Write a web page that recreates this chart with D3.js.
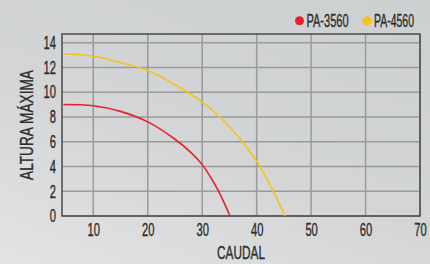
<!DOCTYPE html>
<html lang="es">
<head>
  <meta charset="UTF-8">
  <title>Curvas PA-3560 / PA-4560</title>
  <script src="https://cdn.jsdelivr.net/npm/d3@7"></script>
  <style>
    html, body { margin: 0; padding: 0; }
    body { width: 430px; height: 264px; overflow: hidden;
           background: linear-gradient(200deg, #cdd0d1 0%, #d3d5d6 55%, #e2e3e4 100%); }
    text { font-family: "Liberation Sans", Arial, sans-serif; fill: #2b2b2b;
           stroke: #2b2b2b; stroke-width: 0.35px; }
  </style>
</head>
<body>
<div id="chart"></div>
<script>
// caudal (x) y altura máxima (y)
const pa3560X = [4.5, 10, 15, 20, 25, 28, 30, 32, 33, 34, 35.1];
const pa3560Y = [9.0, 8.9, 8.45, 7.6, 6.2, 5.1, 4.15, 2.8, 2.0, 1.1, 0];
const pa4560X = [4.5, 10, 15, 20, 25, 30, 33, 35.4, 37.2, 40.2, 43, 45.2];
const pa4560Y = [13.1, 12.9, 12.4, 11.75, 10.6, 9.2, 8.1, 7.0, 6.1, 4.3, 2.05, 0];
const xTicks = [10, 20, 30, 40, 50, 60, 70];
const yTicks = [0, 2, 4, 6, 8, 10, 12, 14];
const seriesNames = ["PA-3560", "PA-4560"];
const seriesColors = ["#ea1f2d", "#f6c419"];

const width = 430, height = 264;
const margin = { top: 34, right: 10, bottom: 48, left: 62 };
const squeeze = 0.62; // the original uses a condensed face

const svg = d3.select("#chart").append("svg")
  .attr("width", width)
  .attr("height", height);

const x = d3.scaleLinear().domain([4.25, 70]).range([margin.left, width - margin.right]);
const y = d3.scaleLinear().domain([0, 14.7]).range([height - margin.bottom, margin.top]);

// grid
svg.append("g")
  .selectAll("line")
  .data(xTicks)
  .join("line")
  .attr("x1", d => x(d)).attr("x2", d => x(d))
  .attr("y1", y(14.7)).attr("y2", y(0))
  .attr("stroke", "#9a9a9a")
  .attr("stroke-width", 1.5);

svg.append("g")
  .selectAll("line")
  .data(yTicks)
  .join("line")
  .attr("x1", x(4.25)).attr("x2", x(70))
  .attr("y1", d => y(d)).attr("y2", d => y(d))
  .attr("stroke", "#9a9a9a")
  .attr("stroke-width", 1.5);

// border
svg.append("rect")
  .attr("x", x(4.25)).attr("y", y(14.7))
  .attr("width", x(70) - x(4.25))
  .attr("height", y(0) - y(14.7))
  .attr("fill", "none")
  .attr("stroke", "#4a4a4a")
  .attr("stroke-width", 1.5);

// axes (labels only)
const xAxis = svg.append("g")
  .attr("transform", `translate(0,${y(0)})`)
  .call(d3.axisBottom(x).tickValues(xTicks).tickSize(0).tickPadding(7));
xAxis.select(".domain").remove();
xAxis.selectAll("text")
  .attr("font-size", 18)
  .attr("fill", "#2b2b2b")
  .attr("transform", `scale(${squeeze},1)`);

const yAxis = svg.append("g")
  .attr("transform", `translate(${x(4.25)},0)`)
  .call(d3.axisLeft(y).tickValues(yTicks).tickSize(0));
yAxis.select(".domain").remove();
yAxis.selectAll("text")
  .attr("font-size", 18)
  .attr("fill", "#2b2b2b")
  .attr("x", 0)
  .attr("transform", `translate(-6,0) scale(${squeeze},1)`);

// curves
const series = [
  { xs: pa3560X, ys: pa3560Y },
  { xs: pa4560X, ys: pa4560Y }
];
const line = d3.line()
  .x(d => x(d[0]))
  .y(d => y(d[1]))
  .curve(d3.curveCatmullRom.alpha(0.5));

series.forEach((s, i) => {
  svg.append("path")
    .datum(s.xs.map((v, j) => [v, s.ys[j]]))
    .attr("d", line)
    .attr("fill", "none")
    .attr("stroke", seriesColors[i])
    .attr("stroke-width", 1.6);
});

// axis titles
svg.append("text")
  .attr("x", (x(4.25) + x(70)) / 2)
  .attr("y", 258.5)
  .attr("text-anchor", "middle")
  .attr("font-size", 19)
  .attr("textLength", 48)
  .attr("lengthAdjust", "spacingAndGlyphs")
  .text("CAUDAL");

svg.append("text")
  .attr("transform", `translate(33,${(y(0) + y(14.7)) / 2}) rotate(-90)`)
  .attr("text-anchor", "middle")
  .attr("font-size", 19)
  .attr("textLength", 110)
  .attr("lengthAdjust", "spacingAndGlyphs")
  .text("ALTURA MÁXIMA");

// legend
const legendX = [299.5, 367];
const legendW = [42, 40];
const legend = svg.append("g");
legend.selectAll("circle")
  .data(seriesNames)
  .join("circle")
  .attr("cx", (d, i) => legendX[i])
  .attr("cy", 20.7)
  .attr("r", 4.5)
  .attr("fill", (d, i) => seriesColors[i]);
legend.selectAll("text")
  .data(seriesNames)
  .join("text")
  .attr("x", (d, i) => legendX[i] + 7)
  .attr("y", 26.5)
  .attr("font-size", 18)
  .attr("textLength", (d, i) => legendW[i])
  .attr("lengthAdjust", "spacingAndGlyphs")
  .text(d => d);
</script>
</body>
</html>
